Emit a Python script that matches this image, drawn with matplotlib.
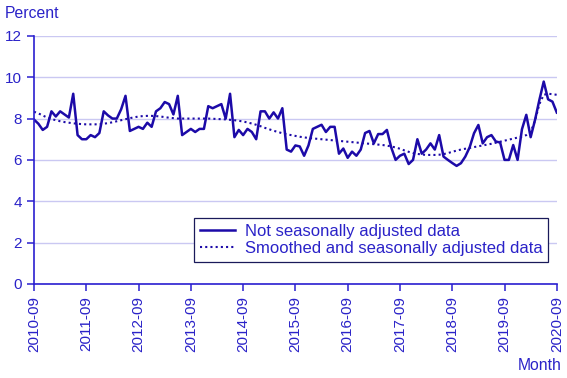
import numpy as np
import matplotlib
matplotlib.use("Agg")
import matplotlib.pyplot as plt

# monthly values, 2010-09 .. 2020-09
raw = [7.95, 7.75, 7.45, 7.6, 8.35, 8.1, 8.35, 8.2, 8.05, 9.2,
       7.2, 7.0, 7.0, 7.2, 7.1, 7.3, 8.35, 8.15, 8.0, 8.0,
       8.45, 9.1, 7.4, 7.5, 7.6, 7.5, 7.8, 7.6, 8.35, 8.5,
       8.8, 8.7, 8.2, 9.1, 7.2, 7.35, 7.5, 7.35, 7.5, 7.5,
       8.6, 8.5, 8.6, 8.7, 8.0, 9.2, 7.1, 7.45, 7.2, 7.5,
       7.35, 7.0, 8.35, 8.35, 8.0, 8.3, 8.0, 8.5, 6.5, 6.4,
       6.7, 6.65, 6.2, 6.7, 7.5, 7.6, 7.7, 7.35, 7.6, 7.6,
       6.3, 6.55, 6.1, 6.4, 6.2, 6.5, 7.3, 7.4, 6.8, 7.25,
       7.25, 7.45, 6.6, 6.0, 6.2, 6.3, 5.8, 6.0, 7.0, 6.3,
       6.5, 6.8, 6.5, 7.2, 6.16, 6.0, 5.85, 5.71, 5.84, 6.16,
       6.61, 7.29, 7.69, 6.8, 7.1, 7.2, 6.89, 6.84, 6.0, 6.0,
       6.72, 6.0, 7.48, 8.18, 7.1, 7.93, 8.9, 9.79, 8.93, 8.82,
       8.29]

smooth = [8.33, 8.25, 8.15, 8.05, 7.98, 7.92, 7.87, 7.83, 7.80, 7.77,
          7.75, 7.73, 7.72, 7.72, 7.72, 7.73, 7.75, 7.78, 7.82, 7.87,
          7.92, 7.97, 8.02, 8.06, 8.10, 8.12, 8.13, 8.13, 8.12, 8.10,
          8.07, 8.04, 8.02, 8.00, 8.00, 8.00, 8.00, 8.00, 8.00, 8.00,
          8.00, 7.99, 7.98, 7.97, 7.96, 7.94, 7.92, 7.89, 7.86, 7.81,
          7.76, 7.70, 7.63, 7.55, 7.48, 7.41, 7.35, 7.29, 7.24, 7.20,
          7.16, 7.12, 7.09, 7.06, 7.04, 7.02, 7.00, 6.98, 6.96, 6.94,
          6.92, 6.90, 6.88, 6.86, 6.84, 6.82, 6.80, 6.78, 6.76, 6.74,
          6.72, 6.69, 6.65, 6.60, 6.54, 6.46, 6.39, 6.33, 6.29, 6.26,
          6.24, 6.24, 6.24, 6.25, 6.28, 6.33, 6.39, 6.45, 6.50, 6.54,
          6.58, 6.62, 6.66, 6.70, 6.74, 6.78, 6.83, 6.88, 6.93, 6.98,
          7.03, 7.08, 7.13, 7.20, 7.35, 7.90, 8.70, 9.15, 9.20, 9.18,
          9.15]

tick_labels = ["2010-09", "2011-09", "2012-09", "2013-09", "2014-09", "2015-09",
               "2016-09", "2017-09", "2018-09", "2019-09", "2020-09"]

plt.rcParams['font.family'] = ['Liberation Sans', 'DejaVu Sans']
txt = '#2a22c8'
axc = '#2a1fd0'
linec = '#1c0aa8'

fig = plt.figure(figsize=(5.67, 3.78), dpi=100)
ax = fig.add_axes([0.06, 0.249, 0.922, 0.656])

months = np.arange(len(raw))
ax.plot(months, raw, color=linec, lw=1.8, label="Not seasonally adjusted data")
ax.plot(months, smooth, color=linec, lw=1.5, linestyle=(0, (1, 1.5)),
        label="Smoothed and seasonally adjusted data")

ax.set_xlim(0, 120)
ax.set_ylim(0, 12)
ax.set_yticks(range(0, 13, 2))
ax.set_xticks(range(0, 121, 12))
ax.set_xticklabels(tick_labels, rotation=90)
ax.yaxis.grid(True, color='#cac8f2', lw=1)
ax.set_axisbelow(True)

for s in ['top', 'right']:
    ax.spines[s].set_visible(False)
for s in ['left', 'bottom']:
    ax.spines[s].set_color(axc)
    ax.spines[s].set_linewidth(1.2)
ax.tick_params(colors=axc, labelcolor=txt, labelsize=11, length=5, width=1.1)

fig.text(0.008, 0.965, "Percent", color=txt, fontsize=11.3, va='center', ha='left')
fig.text(0.99, 0.032, "Month", color=txt, fontsize=11.3, va='center', ha='right')

leg = ax.legend(loc='lower right', bbox_to_anchor=(1.0, 0.055), fontsize=12,
                frameon=True, fancybox=False, edgecolor='#1a1a5a', framealpha=1,
                handlelength=2.1, handletextpad=0.6, borderpad=0.35, labelspacing=0.15)
leg.get_frame().set_linewidth(0.9)
for t in leg.get_texts():
    t.set_color(txt)

fig.savefig("out.png", dpi=100)
